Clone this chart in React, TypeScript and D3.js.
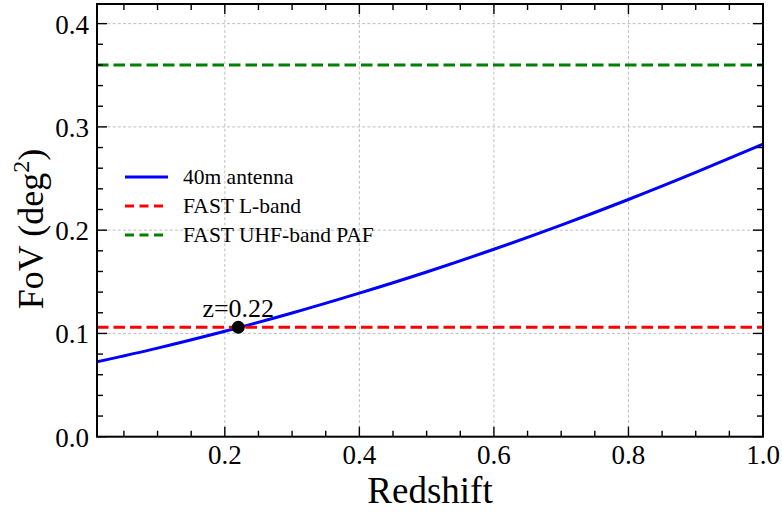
import React from "react";
import * as d3 from "d3";

const redshift = [0.01, 0.1, 0.2, 0.3, 0.4, 0.5, 0.6, 0.7, 0.8, 0.9, 1.0];
const fov40m = [0.0725, 0.0858, 0.1021, 0.1198, 0.139, 0.1595, 0.1815, 0.2049, 0.2297, 0.2559, 0.2833];
const fastLBand = 0.106;
const fastUhfPaf = 0.36;
const crossZ = 0.22;
const xMajorTicks = [0.2, 0.4, 0.6, 0.8, 1.0];
const yMajorTicks = [0.0, 0.1, 0.2, 0.3, 0.4];
const legendLabels = ["40m antenna", "FAST L-band", "FAST UHF-band PAF"];

const W = 782;
const H = 512;
const L = 97;
const R = 763;
const T = 4;
const B = 436.7;
const FONT = "'Liberation Serif', 'Times New Roman', serif";

export default function App() {
  const x = d3.scaleLinear().domain([0.01, 1.0]).range([L, R]);
  const y = d3.scaleLinear().domain([0, 0.419]).range([B, T]);

  const xMinor = d3.range(0.05, 1.0001, 0.05).filter((v) => v > 0.01 && !xMajorTicks.some((m) => Math.abs(m - v) < 1e-6));
  const yMinor = d3.range(0.02, 0.419, 0.02).filter((v) => !yMajorTicks.some((m) => Math.abs(m - v) < 1e-6));

  const line = d3
    .line<number>()
    .x((_, i) => x(redshift[i]))
    .y((d) => y(d))
    .curve(d3.curveMonotoneX);

  const dash = "11.5,5";
  const legendColors = ["#0000ff", "#ff0000", "#008000"];
  const legendDash = [undefined, "9,5.5", "9,5.5"];

  return (
    <svg width={W} height={H} style={{ position: "absolute", left: 0, top: 0, background: "#fff" }} fontFamily={FONT}>
      <defs>
        <clipPath id="plotclip">
          <rect x={L} y={T} width={R - L} height={B - T} />
        </clipPath>
      </defs>
      {/* grid */}
      <g stroke="#b8b8b8" strokeWidth={0.9} strokeDasharray="3,2.2">
        {xMajorTicks.filter((v) => v < 0.999).map((v) => (
          <line key={"gx" + v} x1={x(v)} x2={x(v)} y1={T} y2={B} />
        ))}
        {yMajorTicks.filter((v) => v > 0).map((v) => (
          <line key={"gy" + v} x1={L} x2={R} y1={y(v)} y2={y(v)} />
        ))}
      </g>
      <g clipPath="url(#plotclip)">
        <path d={line(fov40m) || ""} fill="none" stroke="#0000ff" strokeWidth={3} />
        <line x1={L} x2={R} y1={y(fastLBand)} y2={y(fastLBand)} stroke="#ff0000" strokeWidth={3} strokeDasharray={dash} />
        <line x1={L} x2={R} y1={y(fastUhfPaf)} y2={y(fastUhfPaf)} stroke="#008000" strokeWidth={3} strokeDasharray={dash} />
        <circle cx={x(crossZ)} cy={y(fastLBand)} r={6.5} fill="#000" />
      </g>
      <text x={x(crossZ)} y={y(fastLBand) - 10} textAnchor="middle" fontSize={26}>
        z=0.22
      </text>
      {/* ticks */}
      <g stroke="#000" strokeWidth={1.4}>
        {xMajorTicks.map((v) => (
          <g key={"tx" + v}>
            <line x1={x(v)} x2={x(v)} y1={B} y2={B - 10} />
            <line x1={x(v)} x2={x(v)} y1={T} y2={T + 10} />
          </g>
        ))}
        {xMinor.map((v) => (
          <g key={"mx" + v}>
            <line x1={x(v)} x2={x(v)} y1={B} y2={B - 6} />
            <line x1={x(v)} x2={x(v)} y1={T} y2={T + 6} />
          </g>
        ))}
        {yMajorTicks.map((v) => (
          <g key={"ty" + v}>
            <line x1={L} x2={L + 10} y1={y(v)} y2={y(v)} />
            <line x1={R} x2={R - 10} y1={y(v)} y2={y(v)} />
          </g>
        ))}
        {yMinor.map((v) => (
          <g key={"my" + v}>
            <line x1={L} x2={L + 6} y1={y(v)} y2={y(v)} />
            <line x1={R} x2={R - 6} y1={y(v)} y2={y(v)} />
          </g>
        ))}
      </g>
      <rect x={L} y={T} width={R - L} height={B - T} fill="none" stroke="#000" strokeWidth={2} />
      {/* tick labels */}
      <g fontSize={27} fill="#000">
        {xMajorTicks.map((v) => (
          <text key={"lx" + v} x={x(v)} y={B + 27} textAnchor="middle">
            {v.toFixed(1)}
          </text>
        ))}
        {yMajorTicks.map((v) => (
          <text key={"ly" + v} x={L - 8} y={y(v) + 10} textAnchor="end">
            {v.toFixed(1)}
          </text>
        ))}
      </g>
      {/* axis labels */}
      <text x={(L + R) / 2} y={503} textAnchor="middle" fontSize={37}>
        Redshift
      </text>
      <text transform={`translate(43, 229) rotate(-90)`} textAnchor="middle" fontSize={36}>
        FoV (deg
        <tspan dy={-14} fontSize={24}>2</tspan>
        <tspan dy={14}>)</tspan>
      </text>
      {/* legend */}
      <g>
        {legendLabels.map((lab, i) => {
          const ly = 177 + i * 29;
          return (
            <g key={lab}>
              <line x1={125} x2={168} y1={ly} y2={ly} stroke={legendColors[i]} strokeWidth={3} strokeDasharray={legendDash[i]} />
              <text x={183} y={ly + 7} fontSize={21.5}>
                {lab}
              </text>
            </g>
          );
        })}
      </g>
    </svg>
  );
}
